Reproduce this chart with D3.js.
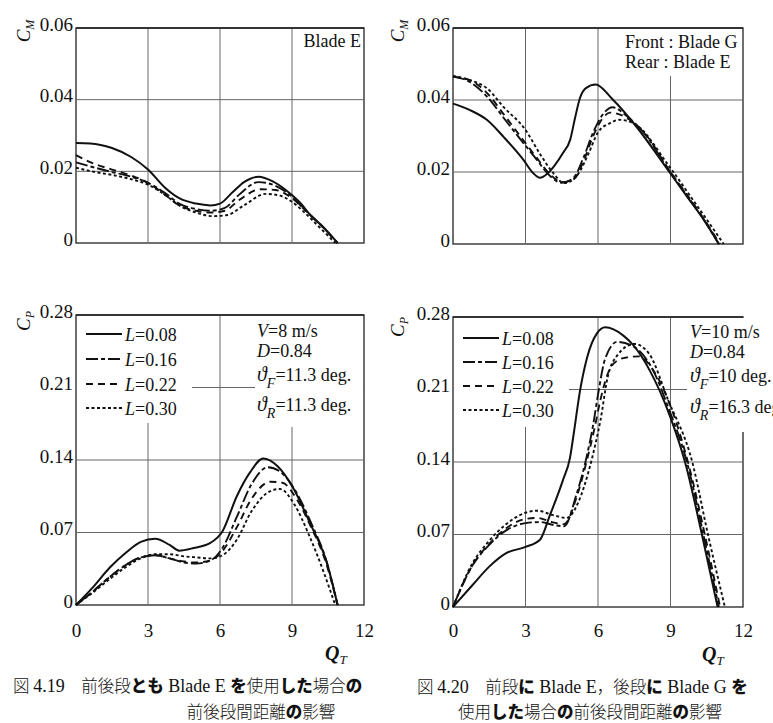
<!DOCTYPE html>
<html>
<head>
<meta charset="utf-8">
<script src="https://cdn.jsdelivr.net/npm/d3@7"></script>
<style>
  body { margin: 0; background: #fff; }
  svg { display: block; }
</style>
</head>
<body>
<svg id="chart" width="773" height="723"></svg>
<script>
// tick values
var qTicks = [0, 3, 6, 9, 12]
var cmTicks = [0, 0.02, 0.04, 0.06]
var cpTicks = [0, 0.07, 0.14, 0.21, 0.28]
var spacingLabels = ['0.08', '0.16', '0.22', '0.30']

// Fig 4.19, C_M, Blade E front and rear: [Q_T, C_M]
var cmE08 = [[0, 0.0279], [0.6, 0.0278], [1.5, 0.0265], [2.3, 0.024], [3, 0.0205], [3.7, 0.0155], [4.3, 0.0125], [5, 0.011], [5.6, 0.0105], [6, 0.011], [6.5, 0.014], [7, 0.017], [7.6, 0.0185], [8.2, 0.0172], [8.7, 0.015], [9.3, 0.0115], [9.8, 0.0075], [10.3, 0.0045], [10.9, 0]]
var cmE16 = [[0, 0.0225], [0.8, 0.021], [1.5, 0.0198], [2.3, 0.0185], [3, 0.0168], [3.7, 0.014], [4.3, 0.011], [5, 0.0095], [5.6, 0.009], [6.2, 0.0098], [6.8, 0.0135], [7.6, 0.017], [8.3, 0.016], [8.9, 0.0135], [9.5, 0.0095], [10.2, 0.005], [10.9, 0]]
var cmE22 = [[0, 0.0245], [0.8, 0.022], [1.5, 0.0205], [2.3, 0.0188], [3, 0.0168], [3.7, 0.0135], [4.3, 0.0105], [5, 0.009], [5.6, 0.0085], [6.2, 0.009], [6.8, 0.012], [7.7, 0.015], [8.3, 0.0148], [8.9, 0.013], [9.5, 0.0095], [10.2, 0.005], [10.9, 0]]
var cmE30 = [[0, 0.021], [0.8, 0.0198], [1.5, 0.019], [2.3, 0.0178], [3, 0.0163], [3.7, 0.0135], [4.3, 0.0105], [5, 0.0085], [5.7, 0.0075], [6.3, 0.0078], [7, 0.0105], [7.9, 0.0137], [8.5, 0.0132], [9, 0.0115], [9.6, 0.008], [10.2, 0.004], [10.8, 0]]

// Fig 4.20, C_M, front Blade G / rear Blade E
var cmGE08 = [[0, 0.039], [0.7, 0.0372], [1.4, 0.0345], [2.1, 0.0297], [2.9, 0.0235], [3.3, 0.0198], [3.6, 0.0184], [3.9, 0.0195], [4.2, 0.0218], [4.55, 0.0253], [4.85, 0.029], [5.05, 0.035], [5.25, 0.0405], [5.5, 0.0433], [5.9, 0.0443], [6.6, 0.0402], [7.6, 0.0325], [8.9, 0.0205], [9.7, 0.013], [10.4, 0.0065], [11, 0]]
var cmGE16 = [[0, 0.0465], [0.7, 0.045], [1.4, 0.041], [2.1, 0.035], [2.8, 0.029], [3.4, 0.024], [4, 0.019], [4.5, 0.017], [5, 0.0185], [5.4, 0.024], [5.8, 0.031], [6.2, 0.036], [6.6, 0.038], [7.2, 0.0355], [8, 0.03], [8.9, 0.0208], [9.7, 0.0133], [10.4, 0.0066], [11, 0]]
var cmGE22 = [[0, 0.0465], [0.7, 0.0455], [1.4, 0.042], [2.1, 0.036], [2.8, 0.0298], [3.4, 0.0245], [4, 0.0195], [4.5, 0.0172], [5, 0.018], [5.4, 0.023], [5.8, 0.03], [6.2, 0.035], [6.5, 0.0365], [7.2, 0.035], [8, 0.0302], [8.9, 0.021], [9.7, 0.0135], [10.4, 0.0068], [11.05, 0]]
var cmGE30 = [[0, 0.0467], [0.7, 0.0455], [1.4, 0.0433], [2.1, 0.038], [3, 0.0317], [3.6, 0.025], [4.15, 0.0197], [4.6, 0.0169], [5.2, 0.0197], [5.6, 0.025], [6, 0.031], [6.5, 0.0336], [6.9, 0.0345], [7.6, 0.033], [8.9, 0.022], [9.8, 0.0135], [10.5, 0.0068], [11.2, 0]]

// Fig 4.19, C_P
var cpE08 = [[0, 0], [0.7, 0.017], [1.4, 0.036], [2.1, 0.051], [2.7, 0.061], [3.3, 0.064], [3.9, 0.058], [4.3, 0.0525], [4.9, 0.055], [5.6, 0.06], [6.1, 0.071], [6.7, 0.105], [7.25, 0.128], [7.8, 0.1415], [8.4, 0.134], [9.05, 0.113], [9.75, 0.079], [10.45, 0.041], [10.9, 0]]
var cpE16 = [[0, 0], [0.7, 0.013], [1.4, 0.027], [2.1, 0.039], [2.7, 0.046], [3.3, 0.048], [3.9, 0.045], [4.5, 0.041], [5, 0.04], [5.6, 0.043], [6.1, 0.055], [6.7, 0.085], [7.3, 0.116], [8, 0.133], [8.6, 0.127], [9.2, 0.108], [9.8, 0.079], [10.4, 0.045], [10.9, 0]]
var cpE22 = [[0, 0], [0.7, 0.013], [1.4, 0.027], [2.1, 0.039], [2.7, 0.046], [3.3, 0.048], [3.9, 0.045], [4.5, 0.042], [5, 0.041], [5.6, 0.043], [6.1, 0.052], [6.7, 0.075], [7.3, 0.102], [8.1, 0.119], [8.6, 0.118], [9.2, 0.102], [9.8, 0.075], [10.4, 0.042], [10.9, 0]]
var cpE30 = [[0, 0], [0.7, 0.012], [1.4, 0.025], [2.1, 0.037], [2.7, 0.045], [3.3, 0.049], [3.9, 0.049], [4.5, 0.047], [5, 0.046], [5.6, 0.045], [6.1, 0.048], [6.7, 0.063], [7.3, 0.09], [8.1, 0.11], [8.5, 0.112], [9.1, 0.097], [9.7, 0.068], [10.3, 0.033], [10.8, 0]]

// Fig 4.20, C_P
var cpGE08 = [[0, 0], [0.8, 0.021], [1.5, 0.039], [2.2, 0.052], [3, 0.058], [3.6, 0.065], [4, 0.088], [4.55, 0.1225], [4.84, 0.144], [5, 0.168], [5.25, 0.208], [5.55, 0.241], [5.95, 0.264], [6.3, 0.27], [7.05, 0.262], [7.45, 0.253], [8.15, 0.228], [8.95, 0.186], [9.6, 0.14], [10.3, 0.07], [10.95, 0]]
var cpGE16 = [[0, 0], [0.8, 0.04], [1.5, 0.06], [2.2, 0.074], [3, 0.081], [3.6, 0.082], [4.2, 0.079], [4.6, 0.078], [5.1, 0.108], [5.5, 0.142], [5.8, 0.176], [6, 0.205], [6.3, 0.24], [6.8, 0.256], [7.5, 0.251], [8.2, 0.232], [8.95, 0.19], [9.68, 0.14], [10.35, 0.071], [11, 0]]
var cpGE22 = [[0, 0], [0.8, 0.04], [1.5, 0.061], [2.2, 0.076], [3, 0.085], [3.5, 0.086], [4.1, 0.082], [4.6, 0.08], [5.1, 0.105], [5.5, 0.138], [5.85, 0.172], [6.1, 0.2], [6.4, 0.225], [6.8, 0.238], [7.2, 0.241], [7.7, 0.242], [8.3, 0.228], [9, 0.194], [9.72, 0.14], [10.42, 0.07], [11.05, 0]]
var cpGE30 = [[0, 0], [0.8, 0.042], [1.5, 0.064], [2.2, 0.08], [3, 0.091], [3.5, 0.093], [4.1, 0.089], [4.7, 0.086], [5.2, 0.102], [5.6, 0.13], [5.9, 0.158], [6.1, 0.18], [6.4, 0.222], [6.8, 0.243], [7.5, 0.254], [8.1, 0.245], [8.9, 0.2], [9.9, 0.14], [10.55, 0.07], [11.25, 0]]

// line style for each spacing L
var dashes = [null, '12,3,4,3', '7,5', '3,2.5']

var serif = 'Liberation Serif'
var cjk = 'Noto Sans CJK JP'

var svg = d3.select('#chart').attr('font-family', serif).attr('fill', '#111')

var line = d3.line().curve(d3.curveMonotoneX)

function txt(parent, x, y, size) {
  return parent.append('text').attr('x', x).attr('y', y)
    .attr('font-family', serif).attr('font-size', size).attr('fill', '#111')
}

function drawPanel(p) {
  var x = d3.scaleLinear().domain([0, 12]).range([p.left, p.right])
  var y = d3.scaleLinear().domain([0, p.ticks[p.ticks.length - 1]]).range([p.bottom, p.top])
  var g = svg.append('g')

  g.append('rect')
    .attr('x', p.left).attr('y', p.top)
    .attr('width', p.right - p.left).attr('height', p.bottom - p.top)
    .attr('fill', 'none').attr('stroke', '#222').attr('stroke-width', 1.3)

  // grid
  g.selectAll('.vgrid')
    .data(qTicks.slice(1, -1))
    .enter().append('line')
    .attr('x1', d => x(d)).attr('x2', d => x(d))
    .attr('y1', p.top).attr('y2', p.bottom)
    .attr('stroke', '#666').attr('stroke-width', 1)
  g.selectAll('.hgrid')
    .data(p.ticks.slice(1, -1))
    .enter().append('line')
    .attr('x1', p.left).attr('x2', p.right)
    .attr('y1', d => y(d)).attr('y2', d => y(d))
    .attr('stroke', '#666').attr('stroke-width', 1)

  // curves
  line.x(d => x(d[0])).y(d => y(d[1]))
  g.selectAll('.curve')
    .data(p.series)
    .enter().append('path')
    .attr('d', line)
    .attr('fill', 'none')
    .attr('stroke', '#111')
    .attr('stroke-width', (d, i) => i === 0 ? 2 : 1.9)
    .attr('stroke-dasharray', (d, i) => dashes[i])

  // white boxes behind the legend texts, top border drawn again over them
  ;(p.boxes || []).forEach(function(b) {
    g.append('rect').attr('x', b[0]).attr('y', b[1]).attr('width', b[2]).attr('height', b[3]).attr('fill', '#fff')
  })
  g.append('line')
    .attr('x1', p.left).attr('x2', p.right).attr('y1', p.top).attr('y2', p.top)
    .attr('stroke', '#222').attr('stroke-width', 1.3)

  // y axis
  var yAxis = d3.axisLeft(y)
    .tickValues(p.ticks)
    .tickSize(0)
    .tickPadding(3)
    .tickFormat(d => d === 0 ? '0' : d3.format('.2f')(d))
  var ya = g.append('g')
    .attr('transform', `translate(${p.left},0)`)
    .call(yAxis)
  ya.select('.domain').remove()
  ya.attr('font-family', serif).attr('font-size', 19)
  ya.selectAll('text').attr('dy', '0.12em').attr('fill', '#111')

  // x axis only on the lower panels
  if (p.xAxis) {
    var xAxis = d3.axisBottom(x).tickValues(qTicks).tickSize(0).tickPadding(637 - p.bottom - 13.5)
    var xa = g.append('g')
      .attr('transform', `translate(0,${p.bottom})`)
      .call(xAxis)
    xa.select('.domain').remove()
    xa.attr('font-family', serif).attr('font-size', 19)
    xa.selectAll('text').attr('fill', '#111')

    var ql = txt(g, p.qLabel[0], p.qLabel[1], 20)
    ql.append('tspan').text('Q').attr('font-style', 'italic').attr('font-weight', 'bold')
    ql.append('tspan').text('T').attr('font-style', 'italic').attr('font-size', 13).attr('dy', 4)
  }

  // rotated y label
  var yl = txt(g, 0, 0, 19)
    .attr('transform', `translate(${p.yLabel[0]},${p.yLabel[1]}) rotate(-90)`)
    .attr('text-anchor', 'middle')
  yl.append('tspan').text('C').attr('font-style', 'italic')
  yl.append('tspan').text(p.yName).attr('font-style', 'italic').attr('font-size', 12).attr('dy', 4)

  return { x: x, y: y, g: g }
}

function drawLegend(g, x0, ys) {
  spacingLabels.forEach(function(lab, i) {
    g.append('line')
      .attr('x1', x0).attr('x2', x0 + 36)
      .attr('y1', ys[i]).attr('y2', ys[i])
      .attr('stroke', '#111').attr('stroke-width', 1.9)
      .attr('stroke-dasharray', dashes[i])
    var t = txt(g, x0 + 39, ys[i] + 7, 18)
    t.append('tspan').text('L').attr('font-style', 'italic')
    t.append('tspan').text('=' + lab)
  })
}

function drawParams(g, x0, ys, v, thF, thR) {
  var t1 = txt(g, x0, ys[0], 18)
  t1.append('tspan').text('V').attr('font-style', 'italic')
  t1.append('tspan').text('=' + v + ' m/s')
  var t2 = txt(g, x0, ys[1], 18)
  t2.append('tspan').text('D').attr('font-style', 'italic')
  t2.append('tspan').text('=0.84')
  ;[['F', thF, ys[2]], ['R', thR, ys[3]]].forEach(function(r) {
    var t = txt(g, x0, r[2], 18)
    t.append('tspan').text('ϑ').attr('font-style', 'italic').attr('font-size', 20)
    t.append('tspan').text(r[0]).attr('font-style', 'italic').attr('font-size', 14).attr('dy', 7)
    t.append('tspan').text('=' + r[1] + ' deg.').attr('dy', -7)
  })
}

var tl = drawPanel({ left: 76, right: 364, top: 28, bottom: 243, ticks: cmTicks, series: [cmE08, cmE16, cmE22, cmE30], yName: 'M', yLabel: [30, 31] })
var tr = drawPanel({ left: 453, right: 743, top: 28, bottom: 244, ticks: cmTicks, series: [cmGE08, cmGE16, cmGE22, cmGE30], yName: 'M', yLabel: [404, 31],
  boxes: [[620, 29, 122, 47]] })
var bl = drawPanel({ left: 76, right: 364, top: 315, bottom: 605, ticks: cpTicks, series: [cpE08, cpE16, cpE22, cpE30], yName: 'P', yLabel: [30, 321],
  boxes: [[77, 316, 115, 107], [255, 316, 108, 111]], xAxis: true, qLabel: [325, 660] })
var br = drawPanel({ left: 453, right: 743, top: 317, bottom: 607, ticks: cpTicks, series: [cpGE08, cpGE16, cpGE22, cpGE30], yName: 'P', yLabel: [404, 327],
  boxes: [[454, 318, 115, 109], [687, 318, 86, 114]], xAxis: true, qLabel: [702, 661] })

txt(tl.g, 361, 47, 18).attr('text-anchor', 'end').text('Blade E')
txt(tr.g, 625, 48, 18).text('Front : Blade G')
txt(tr.g, 625, 68, 18).text('Rear : Blade E')

drawLegend(bl.g, 86, [334, 359, 384, 408])
drawLegend(br.g, 463, [338, 362, 386, 410])
drawParams(bl.g, 257, [337, 357, 381, 411], '8', '11.3', '11.3')
drawParams(br.g, 690, [338, 358, 382, 413], '10', '10', '16.3')

// captions (kana come out in a heavy gothic in the original)
var capLeft1 = [['図 ', 'k'], ['4.19', 's'], ['　前後段', 'k'], ['とも', 'b'], [' Blade E ', 's'], ['を', 'b'], ['使用', 'k'], ['した', 'b'], ['場合', 'k'], ['の', 'b']]
var capLeft2 = [['前後段間距離', 'k'], ['の', 'b'], ['影響', 'k']]
var capRight1 = [['図 ', 'k'], ['4.20', 's'], ['　前段', 'k'], ['に', 'b'], [' Blade E', 's'], ['，', 'k'], ['後段', 'k'], ['に', 'b'], [' Blade G ', 's'], ['を', 'b']]
var capRight2 = [['使用', 'k'], ['した', 'b'], ['場合', 'k'], ['の', 'b'], ['前後段間距離', 'k'], ['の', 'b'], ['影響', 'k']]

function caption(x, y, anchor, segs) {
  var t = txt(svg, x, y, 16.5).attr('text-anchor', anchor).attr('xml:space', 'preserve')
  segs.forEach(function(s) {
    var sp = t.append('tspan').text(s[0])
    if (s[1] === 's') sp.attr('font-family', serif).attr('font-size', 18)
    else sp.attr('font-family', cjk).attr('font-weight', s[1] === 'b' ? 900 : 300)
  })
}

caption(13, 692, 'start', capLeft1)
caption(261, 718, 'middle', capLeft2)
caption(417, 693, 'start', capRight1)
caption(590, 718, 'middle', capRight2)
</script>
</body>
</html>
